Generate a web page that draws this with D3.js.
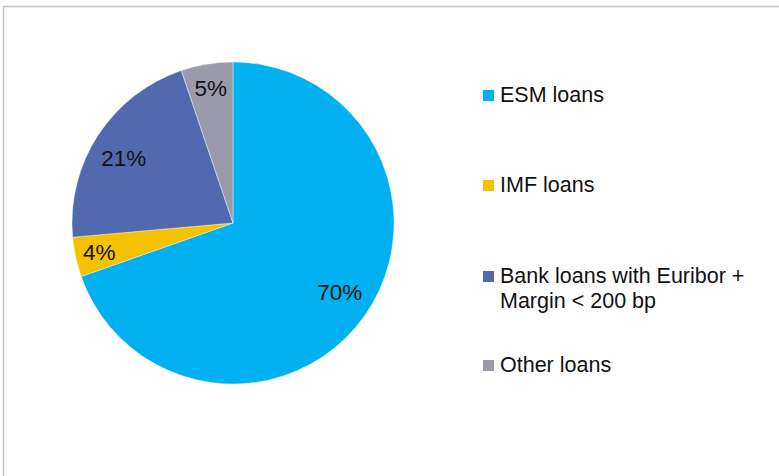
<!DOCTYPE html>
<html>
<head>
<meta charset="utf-8">
<script src="https://cdn.jsdelivr.net/npm/d3@7"></script>
<style>
  html, body { margin: 0; padding: 0; background: #fff; }
  svg { display: block; }
  text { font-family: "Liberation Sans", Arial, sans-serif; fill: #111; }
</style>
</head>
<body>
<div id="chart"></div>
<script>
const categories = ["ESM loans", "IMF loans", "Bank loans with Euribor + Margin < 200 bp", "Other loans"];
const legendLines = [["ESM loans"], ["IMF loans"], ["Bank loans with Euribor +", "Margin < 200 bp"], ["Other loans"]];
const shares = [0.696, 0.040, 0.212, 0.052];
const colors = ["#00B0F0", "#F5C200", "#5069AF", "#9A9AAB"];

const W = 779, H = 476;
const svg = d3.select("#chart").append("svg").attr("width", W).attr("height", H);

// frame
svg.append("path")
  .attr("d", `M3.5,${H} L3.5,6.5 L${W},6.5`)
  .attr("fill", "none").attr("stroke", "#C4C4C4").attr("stroke-width", 1.5);

const cx = 233, cy = 223, R = 161;
const data = categories.map((c, i) => ({ name: c, value: shares[i], color: colors[i] }));
const pie = d3.pie().sort(null).value(d => d.value);
const arcs = pie(data);
const arc = d3.arc().innerRadius(0).outerRadius(R);

const g = svg.append("g").attr("transform", `translate(${cx},${cy})`);
g.selectAll("path.slice").data(arcs).enter().append("path")
  .attr("class", "slice")
  .attr("d", arc)
  .attr("fill", d => d.data.color)
  .attr("stroke", "#fff").attr("stroke-width", 0.4);

const fmt = d3.format(".0%");
g.selectAll("text.lbl").data(arcs).enter().append("text")
  .attr("class", "lbl")
  .attr("transform", d => {
    const small = d.data.value < 0.06;
    const rr = small ? R * 0.85 : R * 0.79;
    const a = (d.startAngle + d.endAngle) / 2 - (small ? 0 : 0.04);
    return `translate(${Math.sin(a) * rr},${-Math.cos(a) * rr + 8})`;
  })
  .attr("text-anchor", "middle")
  .attr("font-size", 22.5)
  .text(d => fmt(d.data.value));

// legend
const baseY = [102, 192, 283, 372];
const lg = svg.append("g");
categories.forEach((c, i) => {
  const y = baseY[i];
  lg.append("rect").attr("x", 483).attr("y", y - 12).attr("width", 11).attr("height", 11).attr("fill", colors[i]);
  const t = lg.append("text").attr("x", 500).attr("y", y).attr("font-size", 21.5);
  legendLines[i].forEach((line, j) => {
    t.append("tspan").attr("x", 500).attr("dy", j === 0 ? 0 : 24.5).text(line);
  });
});
</script>
</body>
</html>
